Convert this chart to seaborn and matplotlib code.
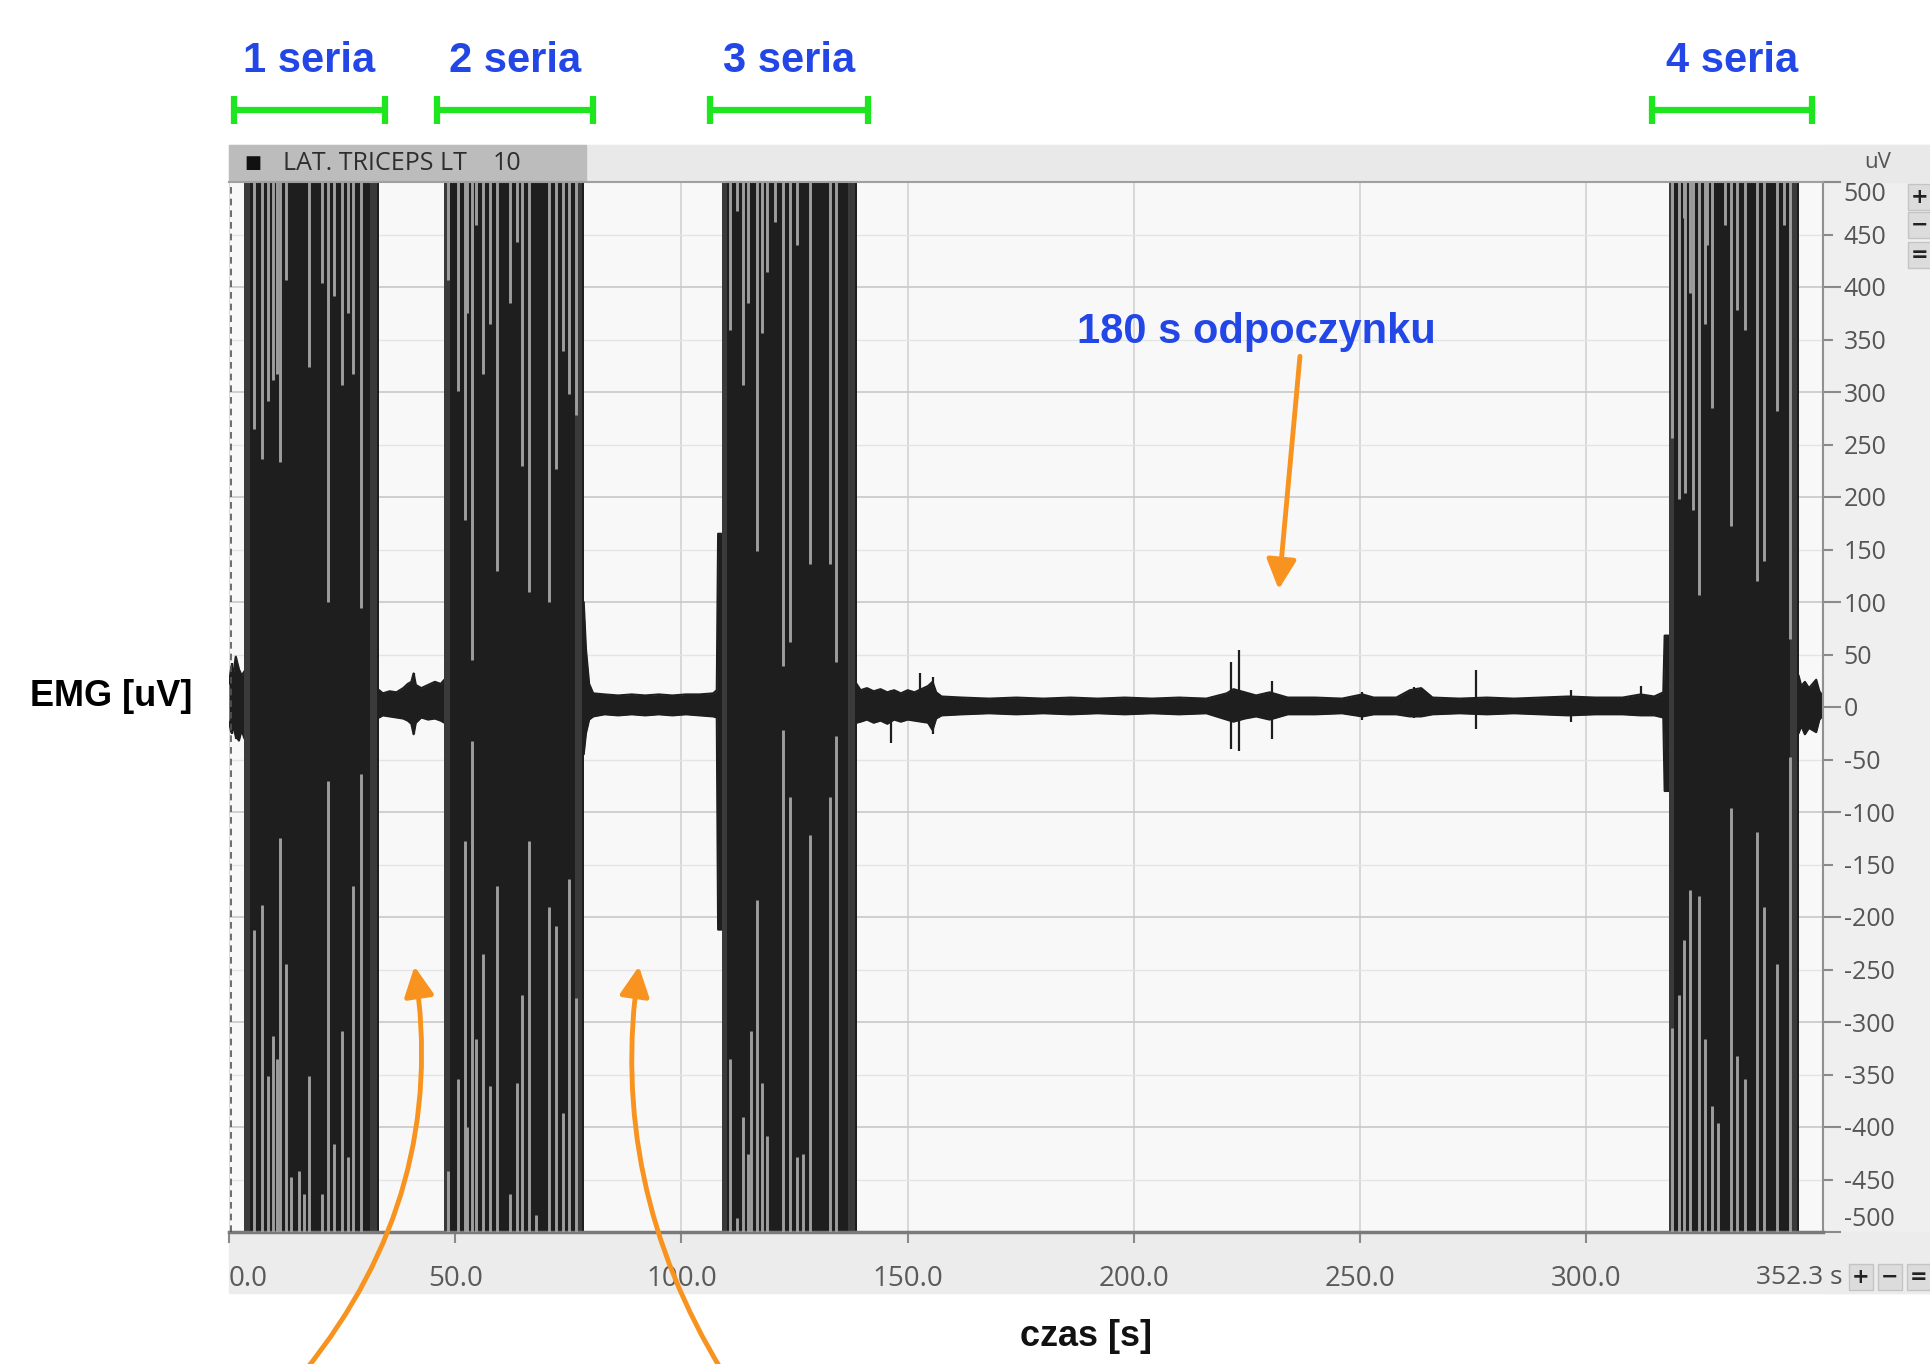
import seaborn as sns
import matplotlib.pyplot as plt
from matplotlib.patches import Rectangle

sns.set_theme(style='white')
plt.rcParams['font.family'] = ['Open Sans', 'DejaVu Sans']

# --- data ---
series_names = ['1 seria', '2 seria', '3 seria', '4 seria']
burst_start = [3.4, 47.6, 108.9, 318.2]
burst_end = [33.2, 78.4, 138.7, 346.9]
bar_start = [1.1, 45.9, 106.2, 314.6]
bar_end = [34.4, 80.5, 141.2, 349.8]

# lighter gaps inside each burst: time, level reached from the top, level reached from the bottom
gap1_t = [5.6, 7.4, 8.7, 9.8, 10.7, 11.3, 12.6, 13.7, 15.5, 16.6, 17.6, 20.5, 21.8, 23.1, 24.9, 26.2, 27.4, 29.1]
gap1_top = [265, 236, 291, 311, 317, 233, 407, 500, 500, 500, 324, 404, 100, 391, 307, 375, 317, 94]
gap1_bot = [-212, -189, -351, -313, -335, -125, -245, -448, -442, -464, -351, -464, -70, -416, -309, -429, -170, -64]

gap2_t = [48.4, 50.6, 52.1, 52.6, 53.7, 54.5, 56.1, 57.6, 59.2, 62.0, 63.6, 64.8, 66.2, 67.9, 70.8, 72.3, 73.9, 75.2, 76.7]
gap2_top = [407, 301, 178, 375, 45, 459, 317, 365, 130, 385, 443, 230, 110, 500, 100, 227, 339, 298, 278]
gap2_bot = [-442, -354, -128, -400, -32, -316, -235, -361, -170, -464, -358, -274, -128, -484, -190, -209, -387, -164, -277]

gap3_t = [110.7, 112.2, 113.7, 114.8, 115.4, 116.6, 117.7, 119.0, 120.6, 122.5, 124.0, 125.6, 126.9, 128.4, 132.8, 134.2]
gap3_top = [359, 472, 307, 385, 500, 149, 356, 414, 462, 39, 62, 440, 500, 136, 136, 43]
gap3_bot = [-335, -487, -390, -426, -309, -184, -358, -409, -500, -22, -86, -429, -426, -122, -86, -28]

gap4_t = [318.9, 320.4, 321.5, 321.9, 323.0, 323.6, 324.8, 326.3, 326.6, 327.7, 329.0, 330.7, 331.9, 333.3, 335.1, 337.7, 339.3, 342.2, 343.6, 345.0]
gap4_top = [256, 198, 466, 204, 394, 188, 107, 365, 440, 285, 500, 459, 172, 378, 359, 120, 139, 282, 459, 65]
gap4_bot = [-306, -274, -222, -500, -174, -500, -180, -316, -500, -380, -396, -500, -96, -332, -354, -119, -190, -245, -500, -48]

# resting signal envelope (uV)
rest0_t = [0.0, 0.5, 1.0, 1.5, 2.2, 2.8, 3.4]
rest0_hi = [22, 38, 33, 48, 36, 30, 34]
rest0_lo = [-14, -24, -20, -28, -32, -22, -30]

rest1_t = [33.2, 34.0, 35.5, 37.0, 38.5, 39.5, 40.3, 40.8, 41.3, 42.5, 44.0, 45.5, 46.8, 47.6]
rest1_hi = [16, 13, 15, 14, 18, 22, 24, 32, 21, 18, 21, 24, 22, 26]
rest1_lo = [-10, -8, -9, -10, -11, -13, -16, -26, -15, -10, -12, -11, -13, -15]

rest2_t = [78.4, 78.9, 79.6, 80.5, 83.0, 86.0, 89.0, 92.0, 95.0, 98.0, 101.0, 104.0, 107.0, 107.8, 108.1, 108.9]
rest2_hi = [100, 55, 22, 13, 12, 11, 12, 11, 12, 11, 12, 12, 13, 16, 165, 165]
rest2_lo = [-45, -25, -12, -9, -7, -8, -7, -8, -7, -8, -7, -8, -9, -10, -212, -212]

rest3_t = [138.7, 139.6, 141.0, 142.5, 144.0, 145.5, 147.0, 148.5, 150.0, 151.5,
           153.0, 154.5, 155.5, 156.3, 157.5, 162, 168, 174, 180, 186,
           192, 198, 204, 210, 216, 220.5, 222.0, 224.5, 227, 230,
           234, 240, 246, 250.5, 253, 258, 261, 263.5, 266, 272,
           278, 284, 290, 296, 302, 308, 312, 315, 317.0, 317.3, 318.2]
rest3_hi = [22, 16, 18, 15, 17, 14, 16, 13, 16, 14,
            17, 20, 24, 14, 10, 9, 8, 9, 8, 9,
            8, 9, 8, 9, 8, 13, 17, 14, 11, 14,
            9, 9, 8, 12, 9, 9, 16, 18, 9, 8,
            9, 8, 9, 10, 9, 9, 12, 10, 14, 68, 68]
rest3_lo = [-15, -14, -12, -15, -13, -16, -12, -14, -12, -13,
            -14, -15, -22, -11, -8, -7, -6, -7, -6, -7,
            -6, -7, -6, -7, -6, -12, -14, -11, -9, -12,
            -7, -7, -6, -9, -7, -7, -9, -9, -7, -6,
            -7, -6, -7, -8, -7, -7, -8, -8, -10, -80, -80]

rest4_t = [346.9, 347.5, 348.3, 349.2, 350.0, 350.8, 351.5, 352.3]
rest4_hi = [30, 20, 24, 18, 22, 26, 15, 10]
rest4_lo = [-25, -18, -26, -20, -22, -24, -12, -8]

# isolated spikes during rest
spike_t = [0.7, 1.5, 40.8, 146.3, 152.7, 155.5, 221.4, 223.2, 230.5, 250.4, 262.0, 275.5, 296.6, 312.0, 348.3]
spike_hi = [42, 48, 32, 16, 32, 29, 43, 54, 25, 14, 19, 35, 16, 20, 24]
spike_lo = [-26, -30, -26, -34, -10, -26, -40, -42, -30, -12, -10, -21, -14, -9, -26]

xtick_pos = [0, 50, 100, 150, 200, 250, 300]
xtick_lab = ['0.0', '50.0', '100.0', '150.0', '200.0', '250.0', '300.0']
ytick_major = [-500, -400, -300, -200, -100, 0, 100, 200, 300, 400, 500]
ytick_minor = [-450, -350, -250, -150, -50, 50, 150, 250, 350, 450]

# --- figure ---
W, H = 1931, 1364
fx = lambda px: px / W
fy = lambda py: 1 - py / H

fig = plt.figure(figsize=(W / 100, H / 100), dpi=100)
fig.patch.set_facecolor('white')

# screenshot panels around the trace
fig.patches.append(Rectangle((fx(1823), fy(1293)), (W - 1823) / W, (1293 - 145) / H,
                             transform=fig.transFigure, color='#efefef', zorder=-2))
fig.patches.append(Rectangle((fx(229), fy(1293)), (W - 229) / W, (1293 - 1232) / H,
                             transform=fig.transFigure, color='#ececec', zorder=-2))
fig.patches.append(Rectangle((fx(229), fy(182)), (W - 229) / W, (182 - 145) / H,
                             transform=fig.transFigure, color='#e9e9e9', zorder=-2))
fig.patches.append(Rectangle((fx(229), fy(182)), (586 - 229) / W, (182 - 145) / H,
                             transform=fig.transFigure, color='#bcbcbc', zorder=-1))

ax = fig.add_axes([fx(229), fy(1232), (1823 - 229) / W, (1232 - 182) / H])
ax.set_facecolor('#f8f8f8')
ax.set_axisbelow(True)

# rest signal
rest_t = rest0_t + rest1_t + rest2_t + rest3_t + rest4_t
rest_hi = rest0_hi + rest1_hi + rest2_hi + rest3_hi + rest4_hi
rest_lo = rest0_lo + rest1_lo + rest2_lo + rest3_lo + rest4_lo
ax.fill_between(rest_t, rest_lo, rest_hi, color='#1e1e1e', lw=0, zorder=1.5)
sns.lineplot(x=rest_t, y=rest_hi, ax=ax, color='#1e1e1e', lw=1.5, zorder=1.5)
sns.lineplot(x=rest_t, y=rest_lo, ax=ax, color='#1e1e1e', lw=1.5, zorder=1.5)
ax.vlines(spike_t, spike_lo, spike_hi, color='#1e1e1e', lw=1.6, zorder=1.6)

# bursts
for s, e in zip(burst_start, burst_end):
    ax.fill_between([s, e], -500, 500, color='#1e1e1e', lw=0, zorder=2)
    ax.fill_between([s, s + 1.2], -500, 500, color='#3a3a3a', lw=0, zorder=2.1)
    ax.fill_between([e - 2.0, e - 0.4], -500, 500, color='#3a3a3a', lw=0, zorder=2.1)

for gt, gtop, gbot in [(gap1_t, gap1_top, gap1_bot), (gap2_t, gap2_top, gap2_bot),
                       (gap3_t, gap3_top, gap3_bot), (gap4_t, gap4_top, gap4_bot)]:
    ax.vlines(gt, gtop, 500, color='#9e9e9e', lw=2.1, zorder=3)
    ax.vlines(gt, -500, gbot, color='#9e9e9e', lw=2.1, zorder=3)

ax.axvline(0.35, color='#555555', lw=1.2, ls=(0, (4, 3)), zorder=4)

ax.set_xlim(0, 352.3)
ax.set_ylim(-500, 500)

# axes / ticks
ax.set_xticks(xtick_pos, xtick_lab)
ax.tick_params(axis='x', bottom=True, length=8, width=1.5, color='#8a8a8a',
               labelsize=20, labelcolor='#5a5a5a', pad=16)
ax.get_xticklabels()[0].set_ha('left')

ax.yaxis.tick_right()
ax.set_yticks(ytick_major, [str(v) for v in ytick_major])
ax.set_yticks(ytick_minor, [str(v) for v in ytick_minor], minor=True)
ax.tick_params(axis='y', which='major', right=True, left=False, labelright=True, labelleft=False,
               length=13, width=1.5, color='#8a8a8a', pad=2, labelsize=18, labelcolor='#555555')
ax.tick_params(axis='y', which='minor', right=True, left=False, labelright=True, labelleft=False,
               length=7, width=1.5, color='#8a8a8a', pad=8, labelsize=18, labelcolor='#555555')
yt = ax.yaxis.get_major_ticks()
yt[-1].label2.set_va('top')
yt[0].label2.set_va('bottom')

ax.grid(axis='x', which='major', color='#d2d2d2', lw=1.2)
ax.grid(axis='y', which='major', color='#c9c9c9', lw=1.2)
ax.grid(axis='y', which='minor', color='#e4e4e4', lw=1.0)
ax.set_xlabel('')
ax.set_ylabel('')

ax.spines['left'].set_visible(False)
ax.spines['top'].set_color('#a0a0a0')
ax.spines['top'].set_linewidth(1.5)
ax.spines['bottom'].set_color('#7a7a7a')
ax.spines['bottom'].set_linewidth(2.5)
ax.spines['right'].set_color('#909090')
ax.spines['right'].set_linewidth(1.5)

# series markers above the trace
green = '#1ee61e'
blue = '#2347e6'
bold = dict(family=['Liberation Sans', 'DejaVu Sans'], weight='bold')
for name, s, e in zip(series_names, bar_start, bar_end):
    ax.plot([s, e], [569, 569], color=green, lw=4.5, clip_on=False, zorder=6)
    ax.plot([s, e], [569, 569], ls='none', marker='|', ms=20, mew=4.5, color=green,
            clip_on=False, zorder=6)
    ax.text((s + e) / 2, 615, name, ha='center', va='center', color=blue, fontsize=30,
            clip_on=False, **bold)

fig.text(fx(1256), fy(332), '180 s odpoczynku', ha='center', va='center', color=blue,
         fontsize=30, **bold)
fig.text(fx(111), fy(696), 'EMG [uV]', ha='center', va='center', color='black', fontsize=26, **bold)
fig.text(fx(1086), fy(1336), 'czas [s]', ha='center', va='center', color='#111111', fontsize=26, **bold)

# orange arrows
orange = '#f7931e'
arrow = dict(arrowstyle='-|>', color=orange, lw=3.5, mutation_scale=45, shrinkA=0, shrinkB=0)
ax.annotate('', xy=(41.0, -247), xytext=(fx(305), -0.005), textcoords='figure fraction',
            arrowprops=dict(arrow, connectionstyle='arc3,rad=0.22'), annotation_clip=False)
ax.annotate('', xy=(90.6, -247), xytext=(fx(722), -0.005), textcoords='figure fraction',
            arrowprops=dict(arrow, connectionstyle='arc3,rad=-0.18'), annotation_clip=False)
ax.annotate('', xy=(232.0, 112), xytext=(236.7, 334), arrowprops=arrow, annotation_clip=False)

# screenshot chrome: channel header, units, buttons
fig.text(fx(253), fy(163), '■', ha='center', va='center', fontsize=13, color='#111111',
         family='DejaVu Sans')
fig.text(fx(283), fy(163), 'LAT. TRICEPS LT', ha='left', va='center', fontsize=18, color='#2e2e2e')
fig.text(fx(493), fy(163), '10', ha='left', va='center', fontsize=18, color='#2e2e2e')
fig.text(fx(1878), fy(163), 'uV', ha='center', va='center', fontsize=16, color='#555555')
fig.text(fx(1843), fy(1277), '352.3 s', ha='right', va='center', fontsize=19, color='#555555')


def button(xc, yc, sym):
    fig.patches.append(Rectangle((fx(xc - 12), fy(yc + 13)), 24 / W, 26 / H, transform=fig.transFigure,
                                 facecolor='#dcdcdc', edgecolor='#c4c4c4', lw=1, zorder=5))
    fig.text(fx(xc), fy(yc), sym, ha='center', va='center', fontsize=15, weight='bold',
             color='#222222', family='DejaVu Sans', zorder=6)


for yc, sym in zip([197, 225, 255], ['+', '\u2212', '=']):
    button(1920, yc, sym)
for xc, sym in zip([1861, 1890, 1919], ['+', '\u2212', '=']):
    button(xc, 1277, sym)

plt.savefig('out.png', dpi=100)
